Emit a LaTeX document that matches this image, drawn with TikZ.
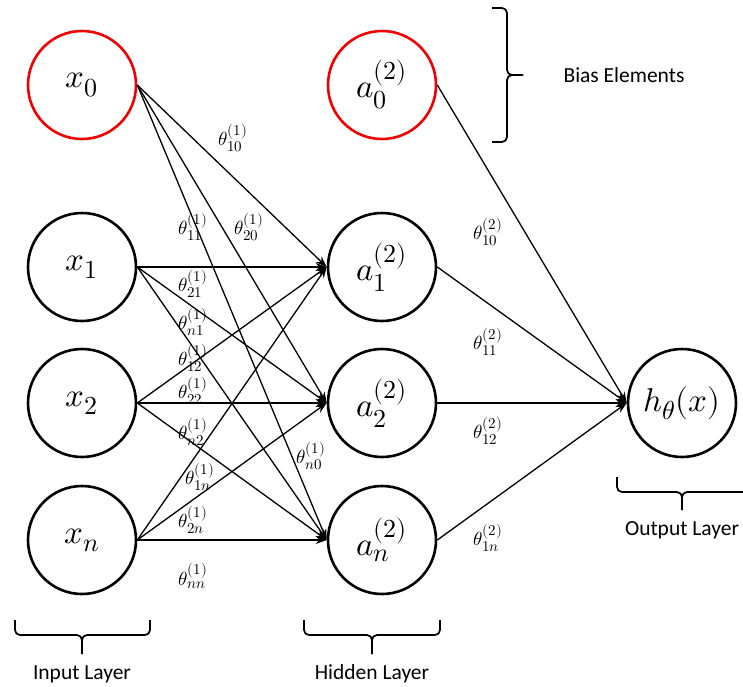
\documentclass[tikz,border=0pt]{standalone}
\usepackage{fontspec}
\usepackage{unicode-math}
\setmathfont{Latin Modern Math}
\setsansfont{Carlito}
\DeclareMathSizes{19}{19}{15}{12}
\DeclareMathSizes{33}{33}{26}{20}
\usetikzlibrary{arrows.meta}
\begin{document}
\begin{tikzpicture}[x=1pt,y=-1pt,
  neuron/.style={circle,draw,fill=white,line width=2.6pt,minimum size=108pt,inner sep=0pt,font=\fontsize{33}{38}\selectfont},
  biasneuron/.style={neuron,draw={rgb,255:red,240;green,0;blue,0}},
  conn/.style={line width=1.3pt,-{Stealth[length=11pt,width=8pt]}},
  wlab/.style={font=\fontsize{19}{22}\selectfont,inner sep=0pt},
  layertext/.style={font=\sffamily\fontsize{21.5}{24}\selectfont,inner sep=0pt},
  bracepath/.style={line width=1.7pt,rounded corners=5pt}]
\useasboundingbox (0,0) rectangle (743,686);

% nodes
\node[biasneuron] (x0) at (82,85) {$x_0$};
\node[neuron] (x1) at (82,267) {$x_1$};
\node[neuron] (x2) at (82,403) {$x_2$};
\node[neuron] (xn) at (82,540) {$x_n$};
\node[biasneuron] (a0) at (382,85) {$a^{(2)}_0$};
\node[neuron] (a1) at (382,267) {$a^{(2)}_1$};
\node[neuron] (a2) at (382,403) {$a^{(2)}_2$};
\node[neuron] (an) at (382,540) {$a^{(2)}_n$};
\node[neuron] (h) at (682,403) {$h_\theta(x)$};

% connectors input -> hidden
\foreach \s in {x0,x1,x2,xn}{
  \foreach \t in {a1,a2,an}{
    \draw[conn] (\s.east) -- (\t.west);
  }
}
% hidden -> output
\foreach \s in {a0,a1,a2,an}{
  \draw[conn] (\s.east) -- (h.west);
}

% weight labels
\node[wlab] (l10) at (233,138) {$\theta^{(1)}_{10}$};
\node[wlab] (l11) at (193,227) {$\theta^{(1)}_{11}$};
\node[wlab] (l20) at (249,227) {$\theta^{(1)}_{20}$};
\node[wlab] (l21) at (193,284) {$\theta^{(1)}_{21}$};
\node[wlab] (ln1) at (193,322) {$\theta^{(1)}_{n1}$};
\node[wlab] (l12) at (193,358) {$\theta^{(1)}_{12}$};
\node[wlab] (l22) at (193,391) {$\theta^{(1)}_{22}$};
\node[wlab] (ln2) at (193,432) {$\theta^{(1)}_{n2}$};
\node[wlab] (ln0) at (311,456) {$\theta^{(1)}_{n0}$};
\node[wlab] (l1n) at (200,477) {$\theta^{(1)}_{1n}$};
\node[wlab] (l2n) at (193,520) {$\theta^{(1)}_{2n}$};
\node[wlab] (lnn) at (193,576) {$\theta^{(1)}_{nn}$};
\node[wlab] (m10) at (488,232) {$\theta^{(2)}_{10}$};
\node[wlab] (m11) at (488,342) {$\theta^{(2)}_{11}$};
\node[wlab] (m12) at (488,431) {$\theta^{(2)}_{12}$};
\node[wlab] (m1n) at (488,538) {$\theta^{(2)}_{1n}$};

% braces
\draw[bracepath] (492,8) -- (507,8) -- (507,75) -- (523,75);
\draw[bracepath] (492,142) -- (507,142) -- (507,75) -- (523,75);
\draw[bracepath] (15,620) -- (15,635) -- (82,635) -- (82,654);
\draw[bracepath] (150,620) -- (150,635) -- (82,635) -- (82,654);
\draw[bracepath] (304,620) -- (304,635) -- (372,635) -- (372,654);
\draw[bracepath] (440,620) -- (440,635) -- (372,635) -- (372,654);
\draw[bracepath] (617,477) -- (617,492) -- (682,492) -- (682,510);
\draw[bracepath] (760,492) -- (682,492) -- (682,510);

% layer texts
\node[layertext] (tbias) at (624,75) {Bias Elements};
\node[layertext] (tin) at (82,674) {Input Layer};
\node[layertext] (thid) at (372,674) {Hidden Layer};
\node[layertext] (tout) at (682,530) {Output Layer};
\end{tikzpicture}
\end{document}
